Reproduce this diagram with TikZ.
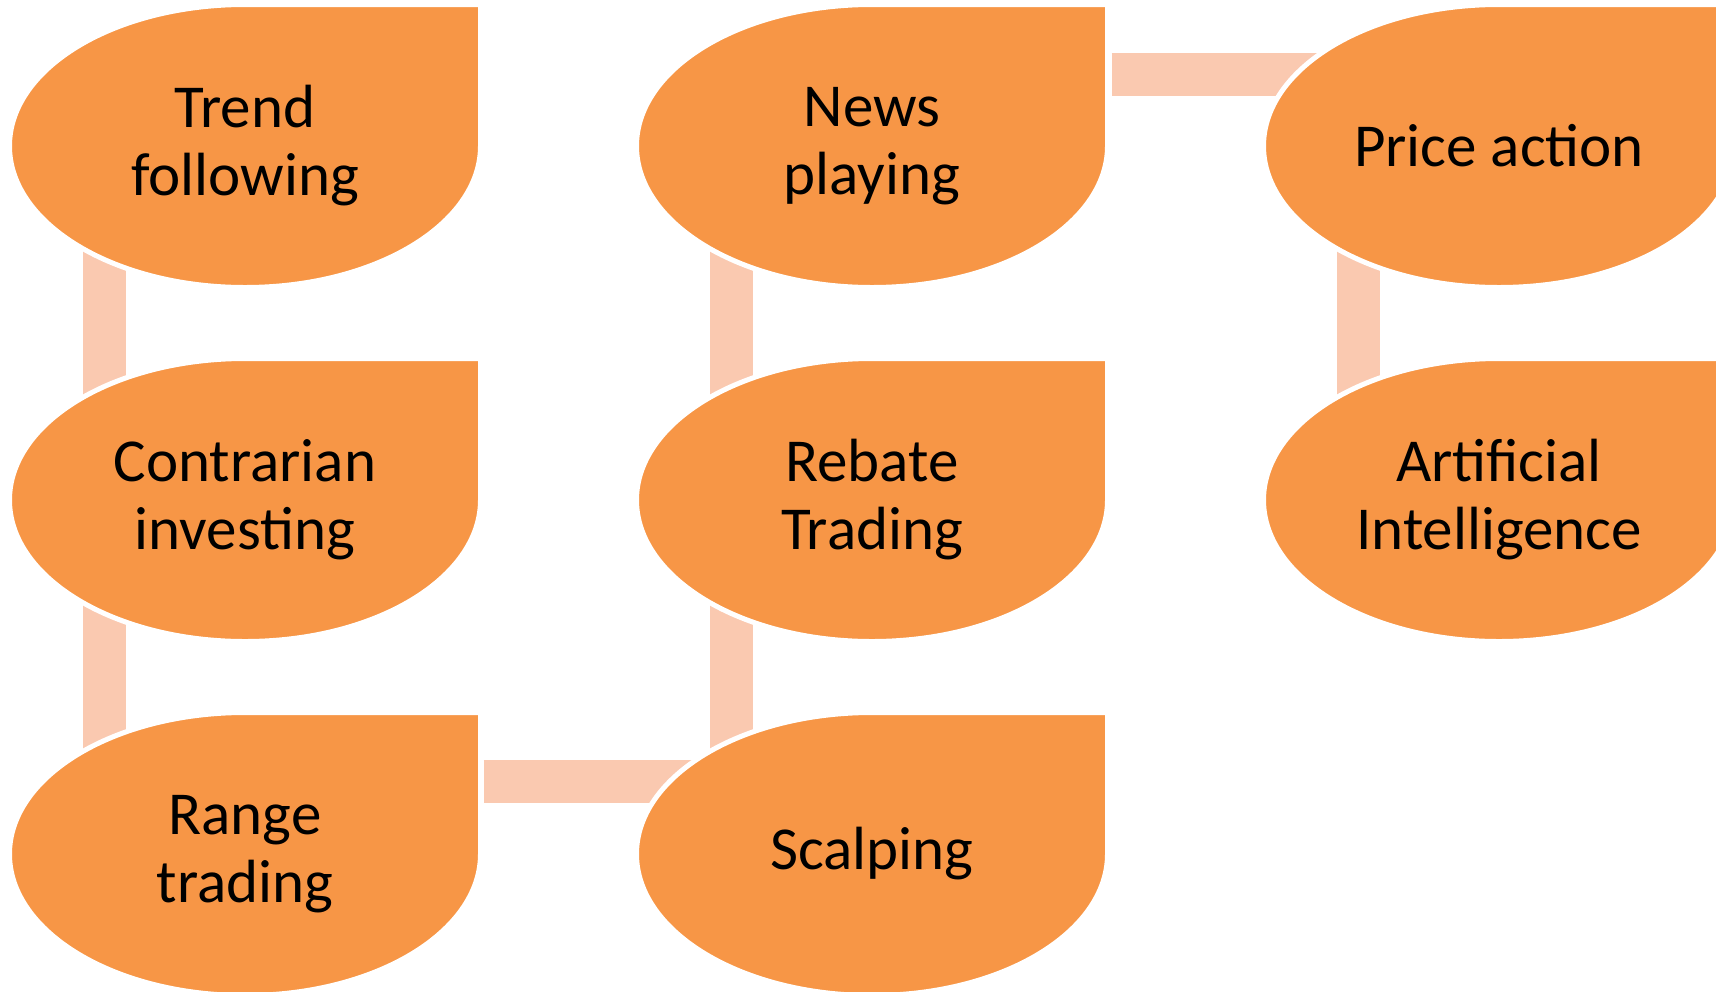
\documentclass[tikz,border=0pt]{standalone}
\usepackage{fontspec}
\setmainfont{Carlito}
\usepackage{tikz}
\definecolor{leaforange}{HTML}{F79646}
\definecolor{linkpeach}{HTML}{FAC9B0}
\pgfdeclarelayer{links}
\pgfdeclarelayer{blobs}
\pgfsetlayers{links,blobs,main}

\begin{document}
\begin{tikzpicture}[x=0.5pt,y=-0.5pt,
  box/.style={rectangle,inner sep=0pt,outer sep=0pt,minimum width=235.5pt,minimum height=141.5pt,align=center,text=black,font=\fontsize{30.5}{34}\selectfont},
  blob/.style={fill=leaforange,draw=white,line width=2.5pt},
  link/.style={draw=linkpeach,line width=21.5pt}]
\useasboundingbox (0,0) rectangle (1716,991);
\clip (0,0) rectangle (1716,991);
\node[box] (trend) at (245,146) {Trend\\following};
\node[box] (contra) at (245,500) {Contrarian\\investing};
\node[box] (range) at (245,854) {Range\\trading};
\node[box] (news) at (872,146) {News\\playing};
\node[box] (rebate) at (872,500) {Rebate\\Trading};
\node[box] (scalp) at (872,854) {Scalping};
\node[box] (price) at (1499,146) {Price action};
\node[box] (ai) at (1499,500) {Artificial\\Intelligence};
\begin{pgfonlayer}{blobs}
\foreach \n in {trend,contra,range,news,rebate,scalp,price,ai}
  \draw[blob] (\n.north) -- (\n.north east) -- (\n.east) arc[start angle=0,end angle=-270,x radius=117.75pt,y radius=70.75pt] -- cycle;
\end{pgfonlayer}
\begin{pgfonlayer}{links}
\draw[link] ([xshift=-70.25pt]trend.center) -- ([xshift=-70.25pt]contra.center);
\draw[link] ([xshift=-70.25pt]contra.center) -- ([xshift=-70.25pt]range.center);
\draw[link] ([shift={(3,-73)}]range.east) -- ([shift={(0,-73)}]scalp.center);
\draw[link] ([xshift=-70.25pt]scalp.center) -- ([xshift=-70.25pt]rebate.center);
\draw[link] ([xshift=-70.25pt]rebate.center) -- ([xshift=-70.25pt]news.center);
\draw[link] ([shift={(4,-72)}]news.east) -- ([shift={(0,-72)}]price.center);
\draw[link] ([xshift=-70.25pt]price.center) -- ([xshift=-70.25pt]ai.center);
\end{pgfonlayer}
\end{tikzpicture}
\end{document}
